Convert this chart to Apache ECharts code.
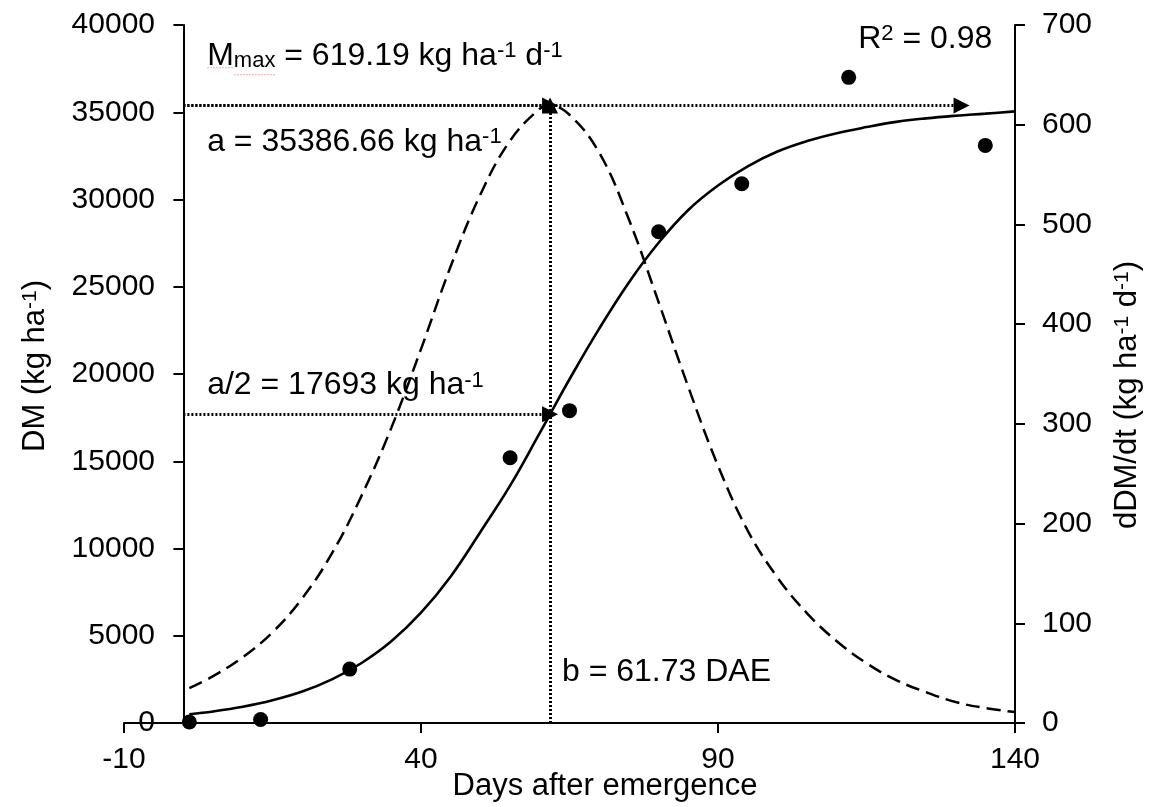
<!DOCTYPE html>
<html>
<head>
<meta charset="utf-8">
<script src="https://cdn.jsdelivr.net/npm/echarts@6/dist/echarts.min.js"></script>
<style>
  html, body { margin: 0; padding: 0; background: #fff; }
  #chart { width: 1151px; height: 807px; }
</style>
</head>
<body>
<div id="chart"></div>
<script>
// Dry matter accumulation (DM) with fitted logistic curve and its daily rate dDM/dt

// Observed dry matter (kg ha-1) by days after emergence
const obsDays = [1, 13, 28, 55, 65, 80, 94, 112, 135];
const obsDM   = [60, 200, 3090, 15200, 17900, 28150, 30900, 37000, 33100];

// Fitted curves sampled along the season
const fitDays = [1, 5, 10, 15, 20, 25, 30, 35, 40, 45, 50, 55, 60, 61.73, 65, 70, 75, 80,
                 85, 90, 95, 100, 105, 110, 115, 120, 125, 130, 135, 140];
const dmFit   = [500, 660, 930, 1300, 1800, 2500, 3440, 4680, 6320, 8400, 10950, 13600, 16620, 17693,
                 19700, 22600, 25250, 27520, 29400, 30800, 31900, 32750, 33350, 33800, 34150, 34450,
                 34650, 34800, 34920, 35050];
const rateFit = [35, 47, 66, 91, 125, 170, 228, 296, 375, 458, 530, 584, 616, 619.19,
                 610, 572, 505, 422, 337, 258, 193, 146, 110, 82, 60, 43, 31, 21, 15, 11];

// Axis ticks
const xTicks = [-10, 40, 90, 140];

// Model parameters
const paramA = 35386.66;
const paramB = 61.73;
const mMax = 619.19;
const halfA = 17693;
const rSquared = 0.98;
const plateauArrowDay = 131;

const FONT = '"Liberation Sans", Arial, Helvetica, sans-serif';
const BLACK = '#000';

const chart = echarts.init(document.getElementById('chart'), null, { renderer: 'canvas' });

const dottedArrow = {
  silent: true,
  animation: false,
  symbol: ['none', 'triangle'],
  symbolSize: 16,
  label: { show: false },
  emphasis: { disabled: true },
  lineStyle: { color: BLACK, width: 3, type: [2, 2], opacity: 1 },
  itemStyle: { color: BLACK }
};

const plainNumber = (v) => String(v);

const option = {
  animation: false,
  backgroundColor: '#fff',
  textStyle: { fontFamily: FONT, color: BLACK },
  grid: { left: 124, right: 136, top: 25, bottom: 84, outerBoundsMode: 'none', containLabel: false },
  xAxis: {
    type: 'value',
    min: -10,
    max: 140,
    interval: 50,
    axisLine: { onZero: true, lineStyle: { color: BLACK, width: 2 } },
    axisTick: { show: true, length: 10, lineStyle: { color: BLACK, width: 2 }, customValues: xTicks },
    axisLabel: { color: BLACK, fontSize: 30, fontFamily: FONT, margin: 22, customValues: xTicks, formatter: plainNumber },
    splitLine: { show: false }
  },
  yAxis: [
    {
      type: 'value',
      min: 0,
      max: 40000,
      interval: 5000,
      axisLine: { show: true, onZero: true, lineStyle: { color: BLACK, width: 2 } },
      axisTick: { show: true, length: 10, lineStyle: { color: BLACK, width: 2 } },
      axisLabel: { color: BLACK, fontSize: 30, fontFamily: FONT, margin: -31, formatter: plainNumber },
      splitLine: { show: false }
    },
    {
      type: 'value',
      position: 'right',
      min: 0,
      max: 700,
      interval: 100,
      axisLine: { show: true, onZero: false, lineStyle: { color: BLACK, width: 2 } },
      axisTick: { show: true, length: 10, lineStyle: { color: BLACK, width: 2 } },
      axisLabel: { color: BLACK, fontSize: 30, fontFamily: FONT, margin: 27, formatter: plainNumber },
      splitLine: { show: false }
    }
  ],
  series: [
    {
      name: 'DM fit',
      type: 'line',
      yAxisIndex: 0,
      data: fitDays.map((d, i) => [d, dmFit[i]]),
      smooth: 0.4,
      showSymbol: false,
      symbol: 'none',
      lineStyle: { color: BLACK, width: 2.6 },
      z: 3,
      markLine: Object.assign({}, dottedArrow, {
        data: [
          [{ coord: [0, paramA] }, { coord: [plateauArrowDay, paramA] }],
          [{ coord: [0, halfA] }, { coord: [paramB, halfA] }]
        ]
      })
    },
    {
      name: 'dDM/dt',
      type: 'line',
      yAxisIndex: 1,
      data: fitDays.map((d, i) => [d, rateFit[i]]),
      smooth: 0.4,
      showSymbol: false,
      symbol: 'none',
      lineStyle: { color: BLACK, width: 2.5, type: [14, 7] },
      z: 3,
      markLine: Object.assign({}, dottedArrow, {
        data: [
          [{ coord: [0, mMax] }, { coord: [paramB, mMax] }],
          [{ coord: [paramB, 0] }, { coord: [paramB, mMax] }]
        ]
      })
    },
    {
      name: 'DM observed',
      type: 'scatter',
      yAxisIndex: 0,
      data: obsDays.map((d, i) => [d, obsDM[i]]),
      symbol: 'circle',
      symbolSize: 15,
      itemStyle: { color: BLACK, opacity: 1 },
      emphasis: { disabled: true },
      z: 5
    }
  ]
};

chart.setOption(option);

// Rich text with superscripts/subscripts
function richSet(size) {
  const small = Math.round(size * 0.68);
  return {
    n:   { fontSize: size,  fontFamily: FONT, lineHeight: size, fill: BLACK },
    sup: { fontSize: small, fontFamily: FONT, lineHeight: Math.round(size * 0.72), verticalAlign: 'top', fill: BLACK },
    sub: { fontSize: small, fontFamily: FONT, lineHeight: Math.round(size * 0.36), verticalAlign: 'bottom', fill: BLACK }
  };
}

function richText(text, x, y, size, opts) {
  opts = opts || {};
  return {
    type: 'text',
    x: x,
    y: y,
    rotation: opts.rotation || 0,
    z: 100,
    silent: true,
    style: {
      text: text,
      rich: richSet(size),
      fontSize: size,
      fontFamily: FONT,
      fill: BLACK,
      align: opts.align || 'left',
      verticalAlign: 'middle'
    }
  };
}

const toPx = (day, v) => chart.convertToPixel({ xAxisIndex: 0, yAxisIndex: 0 }, [day, v]);

const ANN = 32;
const pMax = toPx(4, 38235);
const pA = toPx(4, 33295);
const pHalf = toPx(4, 19341);
const pB = toPx(paramB + 2, 2923);
const pR = toPx(113.6, 39198);

// width of "M" for the proofing underline beneath the symbol
const ctx = document.createElement('canvas').getContext('2d');
ctx.font = ANN + 'px ' + FONT;
const wM = ctx.measureText('M').width;
ctx.font = Math.round(ANN * 0.68) + 'px ' + FONT;
const wSub = ctx.measureText('max').width;

const graphics = [
  richText('{n|M}{sub|max}{n| = ' + mMax.toFixed(2) + ' kg ha}{sup|-1}{n| d}{sup|-1}', pMax[0], pMax[1], ANN),
  richText('{n|a = ' + paramA.toFixed(2) + ' kg ha}{sup|-1}', pA[0], pA[1], ANN),
  richText('{n|a/2 = ' + halfA + ' kg ha}{sup|-1}', pHalf[0], pHalf[1], ANN),
  richText('{n|b = ' + paramB.toFixed(2) + ' DAE}', pB[0], pB[1], ANN),
  richText('{n|R}{sup|2}{n| = ' + rSquared.toFixed(2) + '}', pR[0], pR[1], ANN),
  // axis titles
  richText('{n|Days after emergence}', 605, 786, 31, { align: 'center' }),
  richText('{n|DM (kg ha}{sup|-1}{n|)}', 35, 366, 31, { align: 'center', rotation: Math.PI / 2 }),
  richText('{n|dDM/dt (kg ha}{sup|-1}{n| d}{sup|-1}{n|)}', 1127, 395, 31, { align: 'center', rotation: Math.PI / 2 }),
  // proofing underline under the subscripted symbol
  {
    type: 'line', silent: true, z: 99,
    shape: { x1: pMax[0], y1: pMax[1] + 12, x2: pMax[0] + wM, y2: pMax[1] + 12 },
    style: { stroke: '#f2a3a3', lineWidth: 1, lineDash: [2, 1] }
  },
  {
    type: 'line', silent: true, z: 99,
    shape: { x1: pMax[0] + wM, y1: pMax[1] + 19, x2: pMax[0] + wM + wSub, y2: pMax[1] + 19 },
    style: { stroke: '#f2a3a3', lineWidth: 1, lineDash: [2, 1] }
  }
];

chart.setOption({ graphic: { elements: graphics } });
</script>
</body>
</html>
